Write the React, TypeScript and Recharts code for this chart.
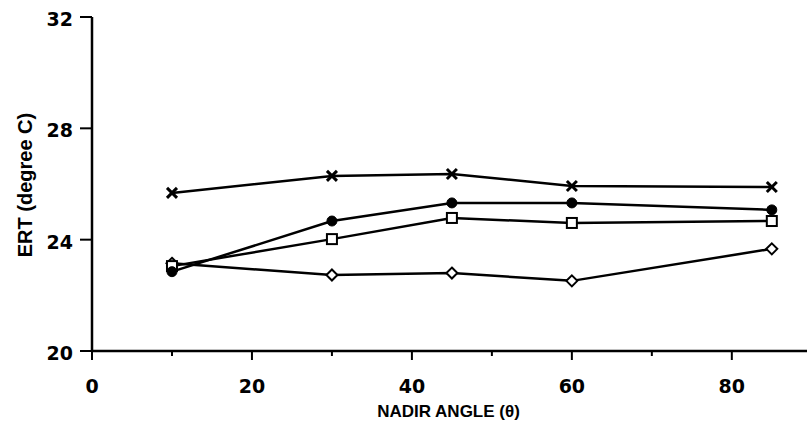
import { LineChart, Line, XAxis, YAxis } from "recharts";

const angles = [10, 30, 45, 60, 85];
const crossSeries = [25.68, 26.29, 26.36, 25.93, 25.89];
const filledSeries = [22.85, 24.67, 25.32, 25.32, 25.07];
const squareSeries = [23.05, 24.02, 24.78, 24.6, 24.67];
const diamondSeries = [23.15, 22.73, 22.8, 22.52, 23.67];

const xTicks = [0, 10, 20, 30, 40, 50, 60, 70, 80];
const yTicks = [20, 24, 28, 32];

const data = angles.map((a, i) => ({
  angle: a,
  cross: crossSeries[i],
  filled: filledSeries[i],
  square: squareSeries[i],
  diamond: diamondSeries[i],
}));

const FONT = "'DejaVu Sans', sans-serif";
const TITLE_FONT = "'Liberation Sans', Arial, sans-serif";

function XTick({ x, y, payload }: any) {
  const major = payload.value % 20 === 0;
  return (
    <g>
      <line x1={x} y1={y} x2={x} y2={y + (major ? 9 : 5)} stroke="#000" strokeWidth={2} />
      {major && (
        <text x={x} y={y + 42} textAnchor="middle" fontFamily={FONT} fontWeight="bold" fontSize={19} fill="#000">
          {payload.value}
        </text>
      )}
    </g>
  );
}

function YTick({ x, y, payload }: any) {
  return (
    <g>
      <line x1={x} y1={y} x2={x - 12} y2={y} stroke="#000" strokeWidth={2} />
      <text x={x - 19} y={y + 9} textAnchor="end" fontFamily={FONT} fontWeight="bold" fontSize={19} fill="#000">
        {payload.value}
      </text>
    </g>
  );
}

function YTitle({ viewBox }: any) {
  const cx = 25;
  const cy = viewBox.y + viewBox.height / 2 + 1;
  return (
    <text x={cx} y={cy} transform={`rotate(-90 ${cx} ${cy})`} textAnchor="middle" dominantBaseline="central"
      fontFamily={TITLE_FONT} fontWeight="bold" fontSize={20} fill="#000">
      ERT (degree C)
    </text>
  );
}

function XTitle({ viewBox }: any) {
  return (
    <text x={viewBox.x + viewBox.width / 2 - 1} y={viewBox.y + 66} textAnchor="middle"
      fontFamily={TITLE_FONT} fontWeight="bold" fontSize={17} fill="#000">
      NADIR ANGLE (θ)
    </text>
  );
}

function CrossDot({ cx, cy }: any) {
  const s = 5;
  return (
    <g stroke="#000" strokeWidth={3}>
      <line x1={cx - s} y1={cy - s} x2={cx + s} y2={cy + s} />
      <line x1={cx - s} y1={cy + s} x2={cx + s} y2={cy - s} />
    </g>
  );
}

function FilledDot({ cx, cy }: any) {
  return <circle cx={cx} cy={cy} r={5} fill="#000" stroke="#000" />;
}

function SquareDot({ cx, cy }: any) {
  return <rect x={cx - 5} y={cy - 5} width={10} height={10} fill="#fff" stroke="#000" strokeWidth={2} />;
}

function DiamondDot({ cx, cy }: any) {
  const s = 5.5;
  return (
    <polygon points={`${cx},${cy - s} ${cx + s},${cy} ${cx},${cy + s} ${cx - s},${cy}`}
      fill="#fff" stroke="#000" strokeWidth={2} />
  );
}

export default function App() {
  return (
    <div style={{ position: "absolute", left: 0, top: 0, width: 807, height: 434, background: "#fff" }}>
      <LineChart width={807} height={434} data={data} margin={{ top: 17, right: 0, bottom: 0, left: 0 }}>
        <XAxis dataKey="angle" type="number" domain={[0, 89.4]} ticks={xTicks} allowDataOverflow
          height={83} tickSize={0} tickMargin={0} tickLine={false} interval={0}
          axisLine={{ stroke: "#000", strokeWidth: 2.5 }} tick={<XTick />} label={<XTitle />} />
        <YAxis type="number" domain={[20, 32]} ticks={yTicks} width={92} tickSize={0} tickMargin={0}
          tickLine={false} interval={0} axisLine={{ stroke: "#000", strokeWidth: 2.5 }}
          tick={<YTick />} label={<YTitle />} />
        <Line dataKey="diamond" stroke="#000" strokeWidth={2.5} dot={<DiamondDot />} isAnimationActive={false} type="linear" />
        <Line dataKey="square" stroke="#000" strokeWidth={2.5} dot={<SquareDot />} isAnimationActive={false} type="linear" />
        <Line dataKey="filled" stroke="#000" strokeWidth={2.5} dot={<FilledDot />} isAnimationActive={false} type="linear" />
        <Line dataKey="cross" stroke="#000" strokeWidth={2.5} dot={<CrossDot />} isAnimationActive={false} type="linear" />
      </LineChart>
    </div>
  );
}
